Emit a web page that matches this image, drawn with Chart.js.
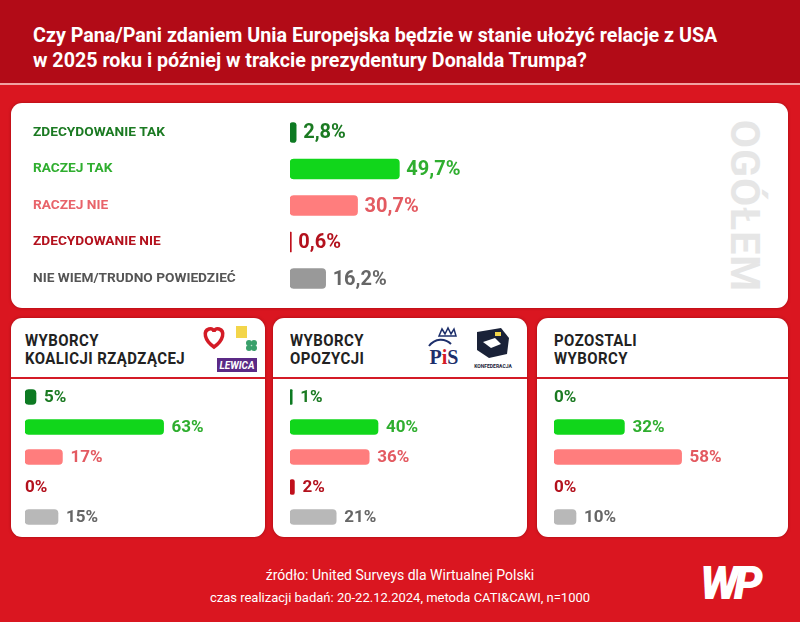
<!DOCTYPE html>
<html lang="pl">
<head>
<meta charset="utf-8">
<script src="https://cdn.jsdelivr.net/npm/chart.js@4.4.1/dist/chart.umd.min.js"></script>
<style>
  html, body { margin: 0; padding: 0; }
  body { width: 800px; height: 622px; overflow: hidden; font-family: Roboto, "Liberation Sans", sans-serif; }
  #page { position: relative; width: 800px; height: 622px; background: #da1620; }
  #header { position: absolute; left: 0; top: 0; width: 800px; height: 83px; background: #b20b17; }
  #header-line { position: absolute; left: 0; top: 83px; width: 800px; height: 2px; background: #f1a2a2; }
  #title { position: absolute; left: 33px; top: 23px; color: #fff; font-size: 19.7px; font-weight: 700; line-height: 25px; white-space: nowrap; }
  .panel { position: absolute; background: #fff; border-radius: 11px; box-shadow: 0 0 3px rgba(110, 0, 0, 0.55); }
  .panel canvas { position: absolute; }
  #ogolem { position: absolute; left: 745px; top: 206px; transform: translate(-50%, -50%) rotate(90deg); color: #e6e6e6; font-size: 41px; font-weight: 700; letter-spacing: 1px; white-space: nowrap; }
  .group-title { position: absolute; top: 13px; color: #222; font-size: 17px; font-weight: 700; line-height: 18px; white-space: nowrap; transform: scaleX(0.88); transform-origin: left center; letter-spacing: 0.5px; }
  .group-line { position: absolute; left: 0; right: 0; top: 59px; height: 2px; background: #d41b26; }
  #footer { position: absolute; left: 0; top: 564px; width: 800px; text-align: center; color: #fff; font-size: 14px; line-height: 22px; }
  #footer span { font-size: 13px; }
  #wp { position: absolute; left: 700px; top: 556px; color: #fff; font-size: 46px; font-weight: 900; font-style: italic; letter-spacing: -5px; }
  .logo { position: absolute; }
</style>
</head>
<body>
<div id="page">
  <div id="header"></div>
  <div id="header-line"></div>
  <div id="title">Czy Pana/Pani zdaniem Unia Europejska będzie w stanie ułożyć relacje z USA<br>w 2025 roku i później w trakcie prezydentury Donalda Trumpa?</div>

  <div class="panel" style="left:11px; top:103px; width:777px; height:205px;">
    <canvas id="overallChart" style="left:0; top:0;" width="689" height="205"></canvas>
  </div>
  <div id="ogolem">OGÓŁEM</div>

  <div class="panel" style="left:11px; top:318px; width:254px; height:219px;">
    <div class="group-title" style="left:14px;">WYBORCY<br>KOALICJI RZĄDZĄCEJ</div>
    <!-- logotypy koalicji -->
    <svg class="logo" style="left:190px; top:7px;" width="60" height="48" viewBox="0 0 60 48">
      <path d="M13 22 C3 15 2 6 8 4 C11 3 13 5 13 7 C13 5 15 3 18 4 C24 6 23 15 13 22 Z" fill="none" stroke="#d41b26" stroke-width="3.5"/>
      <rect x="35" y="1" width="11" height="12" fill="#f3d54a"/>
      <circle cx="48" cy="18" r="3" fill="#3aa06b"/><circle cx="53" cy="18" r="3" fill="#3aa06b"/>
      <circle cx="48" cy="23" r="3" fill="#3aa06b"/><circle cx="53" cy="23" r="3" fill="#3aa06b"/>
      <rect x="16" y="33" width="40" height="14" fill="#5b2a86"/>
      <text x="36" y="44" text-anchor="middle" font-family="Roboto" font-size="10" font-weight="700" font-style="italic" fill="#fff">LEWICA</text>
    </svg>
    <div class="group-line"></div>
    <canvas id="coalitionChart" style="left:0; top:60px;" width="254" height="159"></canvas>
  </div>

  <div class="panel" style="left:273px; top:318px; width:254px; height:219px;">
    <div class="group-title" style="left:17px;">WYBORCY<br>OPOZYCJI</div>
    <!-- logotypy opozycji -->
    <svg class="logo" style="left:150px; top:6px;" width="95" height="50" viewBox="0 0 95 50">
      <path d="M16 12 L19 5 L22 10 L25 4 L28 10 L31 5 L33 12 Z" fill="none" stroke="#1d2f6b" stroke-width="1.5"/>
      <path d="M6 22 C12 14 22 14 28 20" fill="none" stroke="#1d2f6b" stroke-width="2"/>
      <text x="21" y="40" text-anchor="middle" font-family="Liberation Serif" font-size="20" font-weight="700" fill="#1d2f6b">P<tspan fill="#d41b26">i</tspan>S</text>
      <path d="M54 8 L78 4 L86 14 L84 30 L66 34 L54 26 Z" fill="#1a2238"/>
      <path d="M60 18 L72 14 L78 20 L68 24 Z" fill="#fff"/>
      <rect x="72" y="8" width="6" height="4" fill="#f3d54a"/>
      <text x="70" y="44" text-anchor="middle" font-family="Roboto" font-size="5" font-weight="700" fill="#1a2238">KONFEDERACJA</text>
    </svg>
    <div class="group-line"></div>
    <canvas id="oppositionChart" style="left:0; top:60px;" width="254" height="159"></canvas>
  </div>

  <div class="panel" style="left:537px; top:318px; width:251px; height:219px;">
    <div class="group-title" style="left:17px;">POZOSTALI<br>WYBORCY</div>
    <div class="group-line"></div>
    <canvas id="otherChart" style="left:0; top:60px;" width="251" height="159"></canvas>
  </div>

  <div id="footer">źródło: United Surveys dla Wirtualnej Polski<br><span>czas realizacji badań: 20-22.12.2024, metoda CATI&amp;CAWI, n=1000</span></div>
  <div id="wp">WP</div>
</div>

<script>
// Odpowiedzi (kolejność jak w sondażu)
const categories = ['ZDECYDOWANIE TAK', 'RACZEJ TAK', 'RACZEJ NIE', 'ZDECYDOWANIE NIE', 'NIE WIEM/TRUDNO POWIEDZIEĆ'];

// Wyniki w %
const overallValues = [2.8, 49.7, 30.7, 0.6, 16.2];
const coalitionValues = [5, 63, 17, 0, 15];
const oppositionValues = [1, 40, 36, 2, 21];
const otherValues = [0, 32, 58, 0, 10];

// Kolory
const labelColors = ['#1b7a22', '#2fae2f', '#e8636a', '#b3111d', '#555555'];
const valueColors = ['#1b7a22', '#2fae2f', '#e35a61', '#b3111d', '#666666'];
const barColors = ['#0d7a22', '#11d61b', '#ff7d7d', '#c0101c', '#999999'];
const smallBarColors = ['#0d7a22', '#11d61b', '#ff7d7d', '#c0101c', '#b8b8b8'];

Chart.defaults.font.family = 'Roboto, "Liberation Sans", sans-serif';
Chart.defaults.animation = false;

// 0% -> bez słupka
const barFill = colors => ctx => (ctx.raw > 0 ? colors[ctx.dataIndex] : 'rgba(0,0,0,0)');

// wartości obok słupków
const valueLabels = {
    id: 'valueLabels',
    afterDatasetsDraw(chart, args, opts) {
        const ctx = chart.ctx;
        const meta = chart.getDatasetMeta(0);
        const data = chart.data.datasets[0].data;
        ctx.save();
        ctx.font = opts.font;
        ctx.textBaseline = 'middle';
        ctx.textAlign = 'left';
        meta.data.forEach((bar, i) => {
            const v = data[i];
            const x = v > 0 ? bar.x + opts.gap : bar.base;
            ctx.fillStyle = valueColors[i];
            ctx.fillText(opts.format(v), x, bar.y + 1);
        });
        ctx.restore();
    }
};

// === Ogółem ===
new Chart(document.getElementById('overallChart'), {
    type: 'bar',
    data: {
        labels: categories,
        datasets: [{
            data: overallValues,
            backgroundColor: barFill(barColors),
            barThickness: 20,
            borderRadius: 4,
            borderSkipped: false,
        }]
    },
    options: {
        indexAxis: 'y',
        responsive: false,
        layout: { padding: { left: 22, right: 190, top: 11, bottom: 7 } },
        plugins: {
            legend: { display: false },
            tooltip: { enabled: false },
            valueLabels: { font: 'bold 20px Roboto', gap: 7, format: v => v.toFixed(1).replace('.', ',') + '%' }
        },
        scales: {
            x: { display: false, min: 0, max: 100 },
            y: {
                grid: { display: false },
                border: { display: false },
                afterFit(scale) { scale.width = 257; },
                ticks: {
                    crossAlign: 'far',
                    color: ctx => labelColors[ctx.index],
                    font: { size: 13.7, weight: 'bold' }
                }
            }
        }
    },
    plugins: [valueLabels]
});

// === Grupy wyborców ===
function groupChart(id, values, padLeft, padRight) {
    new Chart(document.getElementById(id), {
        type: 'bar',
        data: {
            labels: categories,
            datasets: [{
                data: values,
                backgroundColor: barFill(smallBarColors),
                barThickness: 15,
                borderRadius: 4,
                borderSkipped: false,
            }]
        },
        options: {
            indexAxis: 'y',
            responsive: false,
            layout: { padding: { left: padLeft, right: padRight, top: 4, bottom: 5 } },
            plugins: {
                legend: { display: false },
                tooltip: { enabled: false },
                valueLabels: { font: 'bold 17px Roboto', gap: 8, format: v => v + '%' }
            },
            scales: {
                x: { display: false, min: 0, max: 100 },
                y: { display: false }
            }
        },
        plugins: [valueLabels]
    });
}

groupChart('coalitionChart', coalitionValues, 14, 20);
groupChart('oppositionChart', oppositionValues, 17, 17);
groupChart('otherChart', otherValues, 17, 14);
</script>
</body>
</html>
